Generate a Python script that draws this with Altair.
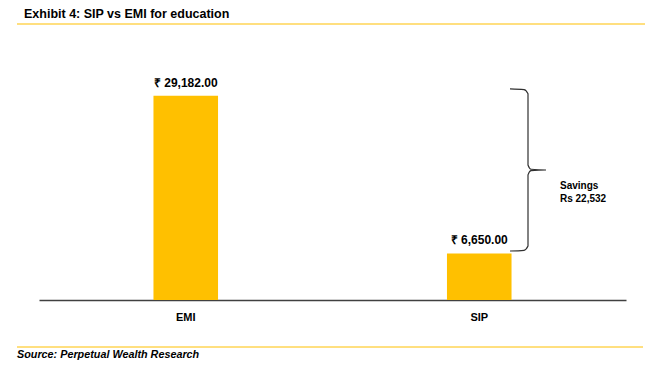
import altair as alt
import pandas as pd

categories = ["EMI", "SIP"]
values = [29182.00, 6650.00]
value_labels = ["₹ 29,182.00", "₹ 6,650.00"]
title_text = "Exhibit 4: SIP vs EMI for education"
source_text = "Source: Perpetual Wealth Research"
savings_lines = ["Savings", "Rs 22,532"]
brace_top = 30150
brace_bottom = 7000

YMAX = 35000
W, H = 587, 245
GOLD = "#FFC000"
SANS = "Liberation Sans, Arial, sans-serif"

df = pd.DataFrame({"cat": categories, "val": values, "label": value_labels})

xs = alt.Scale(domain=categories, paddingInner=0.78, paddingOuter=0.39)
ys = alt.Scale(domain=[0, YMAX])

bars = alt.Chart(df).mark_bar(color=GOLD).encode(
    x=alt.X("cat:N", scale=xs, sort=categories,
            axis=alt.Axis(title=None, ticks=False, labelAngle=0, domainColor="#404040",
                          domainWidth=1.5, labelFont=SANS, labelFontSize=11,
                          labelFontWeight="bold", labelColor="#000000", labelPadding=11)),
    y=alt.Y("val:Q", scale=ys, axis=None),
)

labels = alt.Chart(df).mark_text(baseline="bottom", dy=-6, font=SANS, fontSize=12,
                                 fontWeight="bold", color="#000000").encode(
    x=alt.X("cat:N", scale=xs, sort=categories),
    y=alt.Y("val:Q", scale=ys),
    text="label:N",
)

# curly brace between the two values
mid = (brace_top + brace_bottom) / 2
d = 700
brace_df = pd.DataFrame({
    "i": list(range(11)),
    "px": [471, 485, 489, 489, 492, 507, 492, 489, 489, 485, 471],
    "v": [brace_top, brace_top - 100, brace_top - d, mid + d, mid + 100, mid,
          mid - 100, mid - d, brace_bottom + d, brace_bottom + 100, brace_bottom],
})
brace = alt.Chart(brace_df).mark_line(color="#303030", strokeWidth=1.2, interpolate="monotone").encode(
    x=alt.X("px:Q", scale=None),
    y=alt.Y("v:Q", scale=ys),
    order="i:Q",
)

sav_df = pd.DataFrame({"t": [savings_lines]})
savings = alt.Chart(sav_df).mark_text(align="left", baseline="top", font=SANS, fontSize=10,
                                      fontWeight="bold", color="#000000", lineHeight=13).encode(
    x=alt.value(521), y=alt.value(126), text="t",
)

one = pd.DataFrame({"a": [0]})
title = alt.Chart(one).mark_text(text=title_text, align="left", baseline="middle", font=SANS,
                                 fontSize=12.5, fontWeight="bold", color="#000000").encode(
    x=alt.value(-15), y=alt.value(-41))
top_rule = alt.Chart(one).mark_rule(color=GOLD, strokeWidth=1.2).encode(
    x=alt.value(-22), x2=alt.value(606), y=alt.value(-31))
bot_rule = alt.Chart(one).mark_rule(color=GOLD, strokeWidth=1).encode(
    x=alt.value(-22), x2=alt.value(604), y=alt.value(292))
source = alt.Chart(one).mark_text(text=source_text, align="left", baseline="middle", font=SANS,
                                  fontSize=10.8, fontWeight="bold", fontStyle="italic",
                                  color="#000000").encode(
    x=alt.value(-22), y=alt.value(299.5))

chart = alt.layer(bars, labels, brace, savings, title, top_rule, bot_rule, source).properties(
    width=W, height=H,
    background="white",
    autosize=alt.AutoSizeParams(type="none"),
    padding={"left": 31, "top": 47, "right": 32, "bottom": 60},
).configure_view(strokeWidth=0)

chart.save("out.html", embed_options={"renderer": "svg", "actions": False})
